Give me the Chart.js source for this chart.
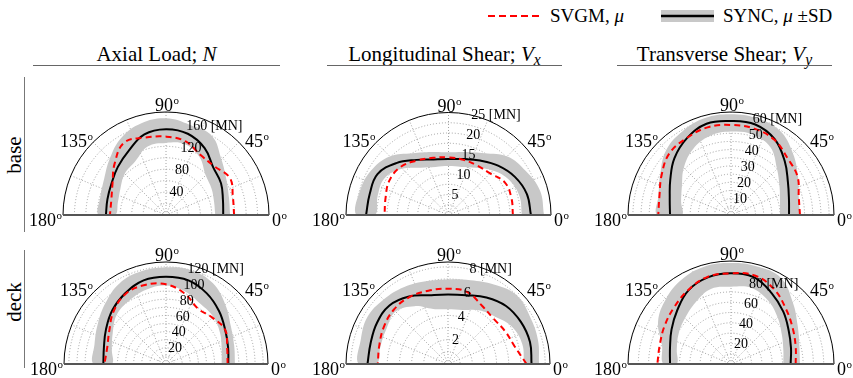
<!DOCTYPE html>
<html><head><meta charset="utf-8">
<script src="https://cdn.jsdelivr.net/npm/chart.js@4/dist/chart.umd.min.js"></script>
<style>
body{margin:0;background:#fff;width:853px;height:378px;overflow:hidden;position:relative;font-family:"Liberation Serif","Times New Roman",serif;color:#000;}
canvas{position:absolute;}
.title{position:absolute;text-align:center;font-size:21px;line-height:24px;white-space:nowrap;}
.rule{position:absolute;height:0;border-top:1.5px solid #666;}
.row{position:absolute;font-size:21px;line-height:24px;width:60px;text-align:center;transform:rotate(-90deg);}
.vrule{position:absolute;width:0;border-left:1.5px solid #777;}
.leg{position:absolute;font-size:19px;line-height:22px;white-space:nowrap;}
sub{font-size:75%;vertical-align:-4px;line-height:0;}
</style></head><body>

<div class="title" style="left:33px;top:42px;width:247px;">Axial Load; <i>N</i></div>
<div class="rule" style="left:33px;top:65px;width:247px;"></div>
<div class="title" style="left:327px;top:42px;width:235px;">Longitudinal Shear; <i>V</i><sub><i>x</i></sub></div>
<div class="rule" style="left:327px;top:65px;width:235px;"></div>
<div class="title" style="left:617px;top:42px;width:215px;">Transverse Shear; <i>V</i><sub><i>y</i></sub></div>
<div class="rule" style="left:617px;top:65px;width:215px;"></div>

<div class="row" style="left:-16px;top:143px;">base</div>
<div class="vrule" style="left:24px;top:77px;height:155px;"></div>
<div class="row" style="left:-16px;top:290px;">deck</div>
<div class="vrule" style="left:24px;top:250px;height:118px;"></div>

<svg style="position:absolute;left:486px;top:8px;" width="58" height="16"><line x1="2" y1="8" x2="55" y2="8" stroke="#ff0000" stroke-width="2" stroke-dasharray="7 4"/></svg>
<div class="leg" style="left:550px;top:5px;">SVGM, <i>μ</i></div>
<svg style="position:absolute;left:659px;top:9px;" width="58" height="14"><rect x="2" y="1" width="53" height="12" fill="#c8c8c8"/><line x1="2" y1="7" x2="55" y2="7" stroke="#000" stroke-width="2.5"/></svg>
<div class="leg" style="left:723px;top:5px;">SYNC, <i>μ</i> ±SD</div>

<script>
// ---- data (polar radius per angle, MN) ----
const angles = [0, 15, 30, 45, 60, 75, 90, 105, 120, 135, 150, 165, 180];
const unitLabel = "[MN]";

const axialBaseSync  = [100, 103, 111, 117, 135, 147, 150, 146, 130, 119, 110, 106, 105];
const axialBaseUpper = [112, 114, 122, 137, 160, 163, 169, 166, 156, 139, 125, 119, 118];
const axialBaseLower = [86, 87, 92, 98, 117, 128, 126, 124, 108, 102, 92, 87, 89];
const axialBaseSvgm  = [119, 121, 129, 120, 121, 133, 137, 140, 146, 127, 108, 99, 98];
const axialBaseTicks = [40, 80, 120, 160];

const vxBaseSync  = [20.1, 19.8, 18.7, 17.1, 15.4, 14.2, 13.7, 14.1, 15.6, 18.0, 20.0, 19.9, 20.1];
const vxBaseUpper = [23.3, 23.1, 21.7, 20.3, 17.5, 16.0, 15.4, 16.0, 17.5, 20.3, 21.8, 22.4, 22.5];
const vxBaseLower = [17.9, 17.9, 17.1, 15.4, 13.4, 12.2, 12.0, 12.2, 13.4, 16.0, 18.0, 17.9, 17.9];
const vxBaseSvgm  = [15.7, 15.9, 15.9, 14.4, 14.0, 14.0, 14.1, 14.5, 15.4, 16.6, 16.7, 15.9, 15.6];
const vxBaseTicks = [5, 10, 15, 20, 25];

const vyBaseSync  = [35.5, 36.7, 40.2, 46.5, 53.5, 57.3, 57.5, 57.8, 54.1, 49.0, 42.9, 38.8, 37.3];
const vyBaseUpper = [42.2, 42.9, 47.3, 53.5, 59.6, 61.2, 61.6, 61.4, 59.2, 56.1, 50.0, 45.9, 45.1];
const vyBaseLower = [30.0, 31.0, 34.3, 39.8, 48.0, 51.0, 51.0, 50.0, 46.5, 40.8, 34.7, 31.6, 30.2];
const vyBaseSvgm  = [42.2, 42.9, 47.0, 49.0, 53.1, 54.7, 55.1, 55.5, 54.3, 53.3, 49.0, 45.3, 44.5];
const vyBaseTicks = [10, 20, 30, 40, 50, 60];

const axialDeckSync  = [77, 79.4, 84.4, 92.6, 100.8, 107, 107.8, 107, 100.8, 93.8, 85.6, 79.4, 77.4];
const axialDeckUpper = [85.2, 87.2, 92.6, 103.7, 115.4, 120, 119.3, 118.5, 115, 106, 97.5, 91.5, 89.7];
const axialDeckLower = [68.7, 71.2, 77, 82.6, 85.6, 92.5, 97, 95, 90.5, 86, 76, 69.3, 67];
const axialDeckSvgm  = [76.1, 78.2, 84.4, 81, 79, 90, 98.4, 101, 100, 91.7, 81, 75.3, 76.1];
const axialDeckTicks = [20, 40, 60, 80, 100, 120];

const vxDeckSync  = [6.88, 6.99, 6.93, 6.76, 6.33, 5.87, 5.73, 5.87, 6.42, 6.82, 6.76, 6.6, 6.63];
const vxDeckUpper = [7.5, 7.67, 7.8, 8.0, 7.55, 7.14, 6.96, 7.05, 7.3, 7.5, 7.68, 7.45, 7.37];
const vxDeckLower = [6.25, 6.33, 6.1, 5.5, 5.1, 4.6, 4.5, 4.69, 5.5, 6.1, 5.84, 5.75, 5.89];
const vxDeckSvgm  = [6.47, 5.67, 5.42, 5.29, 5.56, 6.14, 6.2, 6.25, 6.36, 6.32, 6.1, 5.86, 5.78];
const vxDeckTicks = [2, 4, 6, 8];

const vyDeckSync  = [57.9, 60.3, 64.7, 71.8, 79.2, 87, 88, 87, 82.6, 73.8, 66.7, 61.3, 59.2];
const vyDeckUpper = [67, 68.7, 74.7, 84.8, 96.7, 98, 98, 98, 95, 89.3, 81.8, 69.3, 65.7];
const vyDeckLower = [50.8, 52.6, 57, 64, 71.5, 76.4, 75, 75.5, 69, 63, 58.7, 54.5, 52.8];
const vyDeckSvgm  = [62.8, 65, 69.2, 75.5, 83.8, 89, 88, 87.6, 83, 78, 74.4, 71.6, 71.5];
const vyDeckTicks = [20, 40, 60, 80];

// ---- panels: data refs + radial axis range/grid step + placement ----
const panels = [
  {sync: axialBaseSync, upper: axialBaseUpper, lower: axialBaseLower, svgm: axialBaseSvgm, ticks: axialBaseTicks, rmax: 180, step: 20,  cx: 166,   base: 215, R: 103},
  {sync: vxBaseSync,    upper: vxBaseUpper,    lower: vxBaseLower,    svgm: vxBaseSvgm,    ticks: vxBaseTicks,    rmax: 25,  step: 2.5, cx: 448.5, base: 215, R: 102.5},
  {sync: vyBaseSync,    upper: vyBaseUpper,    lower: vyBaseLower,    svgm: vyBaseSvgm,    ticks: vyBaseTicks,    rmax: 63,  step: 5,   cx: 731,   base: 215, R: 103},
  {sync: axialDeckSync, upper: axialDeckUpper, lower: axialDeckLower, svgm: axialDeckSvgm, ticks: axialDeckTicks, rmax: 126, step: 10,  cx: 166,   base: 364, R: 102},
  {sync: vxDeckSync,    upper: vxDeckUpper,    lower: vxDeckLower,    svgm: vxDeckSvgm,    ticks: vxDeckTicks,    rmax: 8.4, step: 1,   cx: 448,   base: 364, R: 102},
  {sync: vyDeckSync,    upper: vyDeckUpper,    lower: vyDeckLower,    svgm: vyDeckSvgm,    ticks: vyDeckTicks,    rmax: 100, step: 10,  cx: 731,   base: 364, R: 103}
];

const FONT = '"Liberation Serif"';
const D2R = Math.PI / 180;

function toXY(vals) {
  return angles.map((a, i) => ({x: vals[i] * Math.cos(a * D2R), y: vals[i] * Math.sin(a * D2R)}));
}

function degLabel(ctx, txt, x, y, align) {
  ctx.font = '18px ' + FONT;
  const w = ctx.measureText(txt).width;
  ctx.font = '11px ' + FONT;
  const wo = ctx.measureText('o').width;
  const tot = w + wo + 0.5;
  let sx = x;
  if (align === 'right') sx = x - tot;
  else if (align === 'center') sx = x - tot / 2;
  ctx.textAlign = 'left';
  ctx.textBaseline = 'alphabetic';
  ctx.font = '18px ' + FONT;
  ctx.fillText(txt, sx, y);
  ctx.font = '11px ' + FONT;
  ctx.fillText('o', sx + w + 0.5, y - 7);
}

function polarPlugin(p) {
  return {
    id: 'polarGrid',
    beforeDatasetsDraw(chart) {
      const ctx = chart.ctx, xs = chart.scales.x, ys = chart.scales.y;
      const cx = xs.getPixelForValue(0), cy = ys.getPixelForValue(0);
      const k = (xs.getPixelForValue(p.rmax) - cx) / p.rmax;
      const R = p.rmax * k;
      ctx.save();
      ctx.strokeStyle = '#8c8c8c';
      ctx.lineWidth = 0.8;
      ctx.setLineDash([1, 2]);
      for (let r = p.step; r < p.rmax - 1e-6; r += p.step) {
        ctx.beginPath();
        ctx.arc(cx, cy, r * k, Math.PI, 2 * Math.PI);
        ctx.stroke();
      }
      for (let a = 22.5; a < 180; a += 22.5) {
        ctx.beginPath();
        ctx.moveTo(cx, cy);
        ctx.lineTo(cx + R * Math.cos(a * D2R), cy - R * Math.sin(a * D2R));
        ctx.stroke();
      }
      ctx.restore();
    },
    afterDatasetsDraw(chart) {
      const ctx = chart.ctx, xs = chart.scales.x, ys = chart.scales.y;
      const cx = xs.getPixelForValue(0), cy = ys.getPixelForValue(0);
      const k = (xs.getPixelForValue(p.rmax) - cx) / p.rmax;
      const R = p.rmax * k;
      ctx.save();
      ctx.setLineDash([]);
      ctx.strokeStyle = '#000';
      ctx.lineWidth = 1;
      ctx.beginPath();
      ctx.arc(cx, cy, R, Math.PI, 2 * Math.PI);
      ctx.stroke();
      ctx.strokeStyle = '#555';
      ctx.lineWidth = 2;
      ctx.beginPath();
      ctx.moveTo(cx - R, cy);
      ctx.lineTo(cx + R, cy);
      ctx.stroke();
      ctx.fillStyle = '#000';
      ctx.font = '14px ' + FONT;
      ctx.textAlign = 'left';
      ctx.textBaseline = 'middle';
      p.ticks.forEach((t, i) => {
        const rp = t * k;
        const txt = (i === p.ticks.length - 1) ? (t + ' ' + unitLabel) : String(t);
        ctx.fillText(txt, cx + rp * Math.cos(76 * D2R) - 2, cy - rp * Math.sin(76 * D2R));
      });
      degLabel(ctx, '90', cx + 1, cy - R - 1, 'center');
      degLabel(ctx, '135', cx - 73, cy - 68, 'right');
      degLabel(ctx, '45', cx + 79, cy - 68, 'left');
      degLabel(ctx, '180', cx - R - 1, cy + 11, 'right');
      degLabel(ctx, '0', cx + R + 3, cy + 11, 'left');
      ctx.restore();
    }
  };
}

function makePanel(p) {
  const padL = 42, padR = 42, padT = 26, padB = 16;
  const W = 2 * p.R + padL + padR, H = p.R + padT + padB;
  const canvas = document.createElement('canvas');
  canvas.width = W; canvas.height = H;
  canvas.style.width = W + 'px'; canvas.style.height = H + 'px';
  canvas.style.left = (p.cx - p.R - padL) + 'px';
  canvas.style.top = (p.base - p.R - padT) + 'px';
  document.body.appendChild(canvas);
  const band = toXY(p.upper).concat(toXY(p.lower).reverse());
  new Chart(canvas, {
    type: 'line',
    data: {datasets: [
      {label: 'SVGM', data: toXY(p.svgm), borderColor: '#ff0000', borderWidth: 2, borderDash: [6, 4], pointRadius: 0, tension: 0.4, fill: false},
      {label: 'SYNC', data: toXY(p.sync), borderColor: '#000000', borderWidth: 2, pointRadius: 0, tension: 0.4, fill: false},
      {label: 'SD', data: band, borderColor: 'rgba(0,0,0,0)', borderWidth: 0, backgroundColor: '#c8c8c8', pointRadius: 0, tension: 0.4, fill: 'shape'}
    ]},
    options: {
      responsive: false, animation: false, devicePixelRatio: 1, events: [],
      layout: {padding: {left: padL, right: padR, top: padT, bottom: padB}},
      plugins: {legend: {display: false}, tooltip: {enabled: false}},
      scales: {
        x: {type: 'linear', min: -p.rmax, max: p.rmax, display: false},
        y: {type: 'linear', min: 0, max: p.rmax, display: false}
      }
    },
    plugins: [polarPlugin(p)]
  });
}

const fontReady = (document.fonts && document.fonts.load)
  ? Promise.all([document.fonts.load('18px "Liberation Serif"'), document.fonts.load('14px "Liberation Serif"')]).catch(() => null)
  : Promise.resolve();
fontReady.then(() => panels.forEach(makePanel));
</script>
</body></html>
